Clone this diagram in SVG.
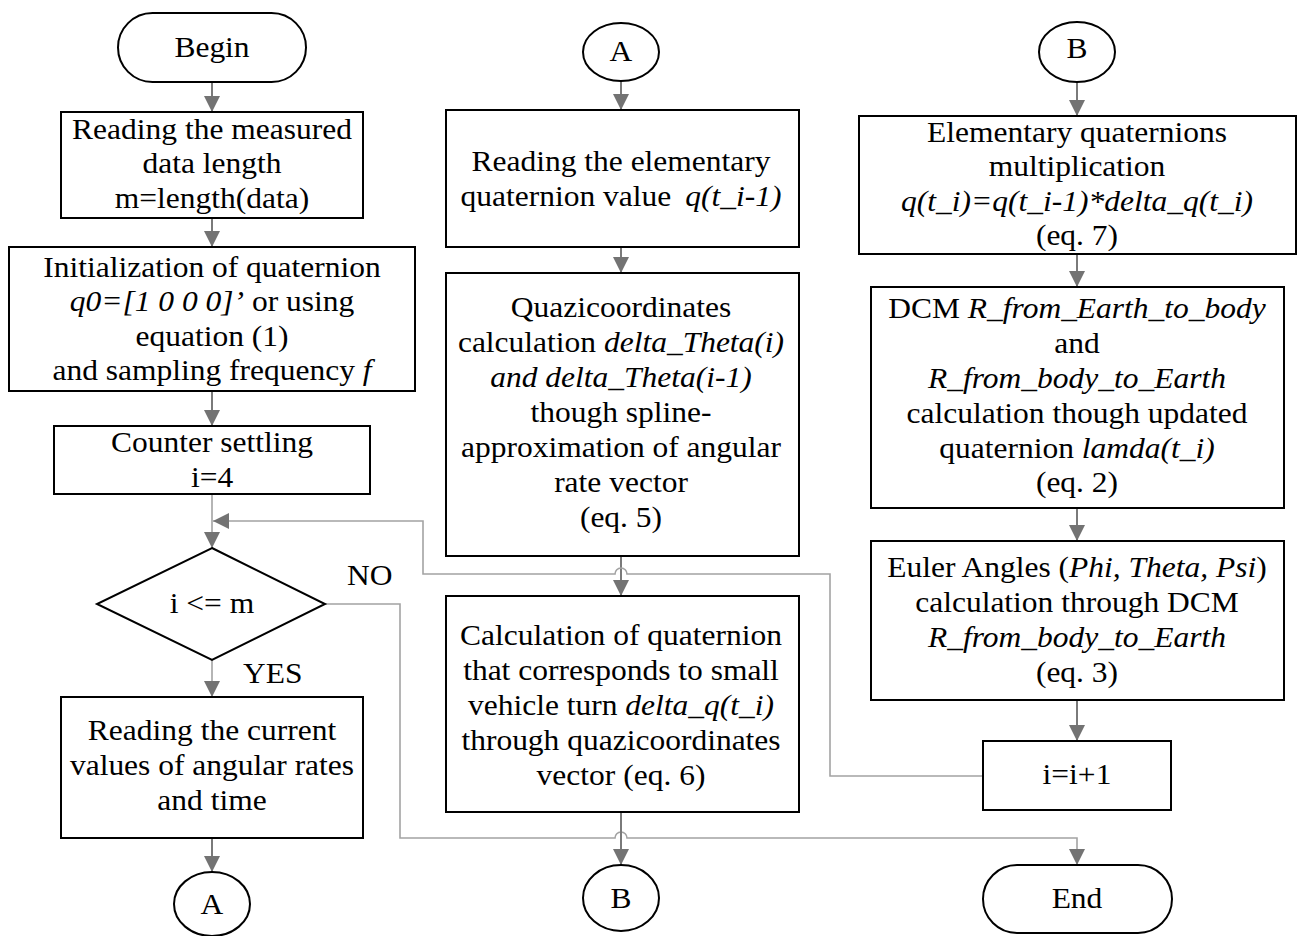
<svg xmlns="http://www.w3.org/2000/svg" width="1297" height="936" viewBox="0 0 1297 936">
<style>
.n{fill:#fff;stroke:#000;stroke-width:2}
.t{font-family:"Liberation Serif","Times New Roman",serif;font-size:30px;fill:#000;text-anchor:middle}
.l{text-anchor:start}
.i{font-style:italic}
.c{fill:none;stroke:#7a7a7a;stroke-width:2}
.c2{fill:none;stroke:#a3a3a3;stroke-width:1.6}
</style>
<defs>
<marker id="ah" markerUnits="userSpaceOnUse" markerWidth="16" markerHeight="16" viewBox="0 0 14 14" refX="14" refY="7" orient="auto">
<path d="M0,0 L14,7 L0,14 Z" fill="#737373"/>
</marker>
</defs>
<rect width="1297" height="936" fill="#fff"/>
<g id="connectors">
<path class="c" d="M212,82 V112" marker-end="url(#ah)"/>
<path class="c" d="M212,218 V247" marker-end="url(#ah)"/>
<path class="c" d="M212,391 V426" marker-end="url(#ah)"/>
<path class="c2" d="M212,494 V548" marker-end="url(#ah)"/>
<path class="c2" d="M212,660 V697" marker-end="url(#ah)"/>
<path class="c" d="M212,838 V872" marker-end="url(#ah)"/>
<path class="c2" d="M325,604 H400 V838 H615 A6,6 0 0 1 627,838 H1077 V865" marker-end="url(#ah)"/>
<path class="c" d="M621,81 V110" marker-end="url(#ah)"/>
<path class="c" d="M621,247 V273" marker-end="url(#ah)"/>
<path class="c" d="M621,556 V596" marker-end="url(#ah)"/>
<path class="c" d="M621,812 V865" marker-end="url(#ah)"/>
<path class="c" d="M1077,83 V116" marker-end="url(#ah)"/>
<path class="c" d="M1077,254 V287" marker-end="url(#ah)"/>
<path class="c" d="M1077,508 V541" marker-end="url(#ah)"/>
<path class="c" d="M1077,700 V741" marker-end="url(#ah)"/>
<path class="c2" d="M983,776 H830 V574 H627 A6,6 0 0 0 615,574 H423 V521 H213" marker-end="url(#ah)"/>
</g>
<g id="begin">
<rect class="n" x="118" y="13" width="188" height="69" rx="34.5"/>
<g transform="translate(212 0) scale(1.05 1)"><text class="t" x="0" y="57">Begin</text></g>
</g>
<g id="read-length">
<rect class="n" x="61" y="112" width="302" height="106"/>
<g transform="translate(212 0) scale(1.05 1)">
<text class="t" x="0" y="139">Reading the measured</text>
<text class="t" x="0" y="173">data length</text>
<text class="t" x="0" y="208">m=length(data)</text>
</g>
</g>
<g id="init">
<rect class="n" x="9" y="247" width="406" height="144"/>
<g transform="translate(212 0) scale(1.05 1)">
<text class="t" x="0" y="277">Initialization of quaternion</text>
<text class="t" x="0" y="311"><tspan class="i">q0=[1 0 0 0]’</tspan> or using</text>
<text class="t" x="0" y="346">equation (1)</text>
<text class="t" x="0" y="380">and sampling frequency <tspan class="i">f</tspan></text>
</g>
</g>
<g id="counter">
<rect class="n" x="54" y="426" width="316" height="68"/>
<g transform="translate(212 0) scale(1.05 1)">
<text class="t" x="0" y="452">Counter settling</text>
<text class="t" x="0" y="487">i=4</text>
</g>
</g>
<g id="decision">
<polygon class="n" points="212,548 325,604 212,660 97,604"/>
<g transform="translate(212 0) scale(1.05 1)"><text class="t" x="0" y="613">i &lt;= m</text></g>
<g transform="translate(347 0) scale(1.05 1)"><text class="t l" x="0" y="585">NO</text></g>
<g transform="translate(243 0) scale(1.05 1)"><text class="t l" x="0" y="683">YES</text></g>
</g>
<g id="read-rates">
<rect class="n" x="61" y="697" width="302" height="141"/>
<g transform="translate(212 0) scale(1.05 1)">
<text class="t" x="0" y="740">Reading the current</text>
<text class="t" x="0" y="775">values of angular rates</text>
<text class="t" x="0" y="810">and time</text>
</g>
</g>
<g id="conn-a-out">
<ellipse class="n" cx="212" cy="904" rx="38" ry="32"/>
<g transform="translate(212 0) scale(1.05 1)"><text class="t" x="0" y="914">A</text></g>
</g>
<g id="conn-a-in">
<ellipse class="n" cx="621" cy="52" rx="38" ry="29"/>
<g transform="translate(621 0) scale(1.05 1)"><text class="t" x="0" y="61">A</text></g>
</g>
<g id="read-quat">
<rect class="n" x="446" y="110" width="353" height="137"/>
<g transform="translate(621 0) scale(1.05 1)">
<text class="t" x="0" y="171">Reading the elementary</text>
<text class="t" x="0" y="206">quaternion value <tspan class="i" dx="6">q(t_i-1)</tspan></text>
</g>
</g>
<g id="quazi">
<rect class="n" x="446" y="273" width="353" height="283"/>
<g transform="translate(621 0) scale(1.05 1)">
<text class="t" x="0" y="317">Quazicoordinates</text>
<text class="t" x="0" y="352">calculation <tspan class="i">delta_Theta(i)</tspan></text>
<text class="t i" x="0" y="387">and delta_Theta(i-1)</text>
<text class="t" x="0" y="422">though spline-</text>
<text class="t" x="0" y="457">approximation of angular</text>
<text class="t" x="0" y="492">rate vector</text>
<text class="t" x="0" y="527">(eq. 5)</text>
</g>
</g>
<g id="delta-q">
<rect class="n" x="446" y="596" width="353" height="216"/>
<g transform="translate(621 0) scale(1.05 1)">
<text class="t" x="0" y="645">Calculation of quaternion</text>
<text class="t" x="0" y="680">that corresponds to small</text>
<text class="t" x="0" y="715">vehicle turn <tspan class="i">delta_q(t_i)</tspan></text>
<text class="t" x="0" y="750">through quazicoordinates</text>
<text class="t" x="0" y="785">vector (eq. 6)</text>
</g>
</g>
<g id="conn-b-out">
<ellipse class="n" cx="621" cy="898" rx="38" ry="33"/>
<g transform="translate(621 0) scale(1.05 1)"><text class="t" x="0" y="908">B</text></g>
</g>
<g id="conn-b-in">
<ellipse class="n" cx="1077" cy="52" rx="38" ry="30"/>
<g transform="translate(1077 0) scale(1.05 1)"><text class="t" x="0" y="58">B</text></g>
</g>
<g id="multiply">
<rect class="n" x="859" y="116" width="437" height="138"/>
<g transform="translate(1077 0) scale(1.05 1)">
<text class="t" x="0" y="142">Elementary quaternions</text>
<text class="t" x="0" y="176">multiplication</text>
<text class="t i" x="0" y="211">q(t_i)=q(t_i-1)*delta_q(t_i)</text>
<text class="t" x="0" y="245">(eq. 7)</text>
</g>
</g>
<g id="dcm">
<rect class="n" x="871" y="287" width="413" height="221"/>
<g transform="translate(1077 0) scale(1.05 1)">
<text class="t" x="0" y="318">DCM <tspan class="i">R_from_Earth_to_body</tspan></text>
<text class="t" x="0" y="353">and</text>
<text class="t i" x="0" y="388">R_from_body_to_Earth</text>
<text class="t" x="0" y="423">calculation though updated</text>
<text class="t" x="0" y="458">quaternion <tspan class="i">lamda(t_i)</tspan></text>
<text class="t" x="0" y="492">(eq. 2)</text>
</g>
</g>
<g id="euler">
<rect class="n" x="871" y="541" width="413" height="159"/>
<g transform="translate(1077 0) scale(1.05 1)">
<text class="t" x="0" y="577">Euler Angles (<tspan class="i">Phi, Theta, Psi</tspan>)</text>
<text class="t" x="0" y="612">calculation through DCM</text>
<text class="t i" x="0" y="647">R_from_body_to_Earth</text>
<text class="t" x="0" y="682">(eq. 3)</text>
</g>
</g>
<g id="increment">
<rect class="n" x="983" y="741" width="188" height="69"/>
<g transform="translate(1077 0) scale(1.05 1)"><text class="t" x="0" y="784">i=i+1</text></g>
</g>
<g id="end">
<rect class="n" x="983" y="865" width="189" height="68" rx="34"/>
<g transform="translate(1077 0) scale(1.05 1)"><text class="t" x="0" y="908">End</text></g>
</g>
</svg>
